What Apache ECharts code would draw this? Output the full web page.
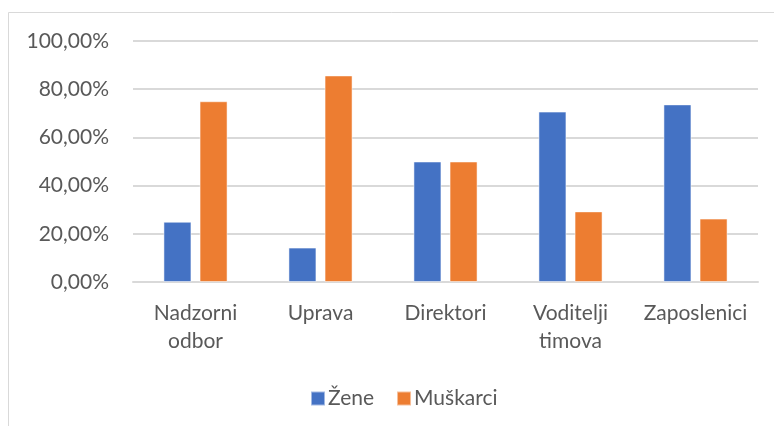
<!DOCTYPE html>
<html>
<head>
<meta charset="utf-8">
<script src="https://cdn.jsdelivr.net/npm/echarts@6/dist/echarts.min.js"></script>
<style>
html,body{margin:0;padding:0;background:#fff;}
#chart{width:774px;height:426px;}
</style>
</head>
<body>
<div id="chart"></div>
<script>
var categories = ["Nadzorni odbor", "Uprava", "Direktori", "Voditelji timova", "Zaposlenici"];
var seriesNames = ["Žene", "Muškarci"];
var zene = [0.25, 0.1429, 0.50, 0.707, 0.737];
var muskarci = [0.75, 0.8571, 0.50, 0.293, 0.263];
var yTicks = [0, 0.2, 0.4, 0.6, 0.8, 1.0];

var FONT = 'Lato';
var TXT = '#595959';
var chart = echarts.init(document.getElementById('chart'), null, {renderer: 'canvas'});
chart.setOption({
  animation: false,
  backgroundColor: '#ffffff',
  textStyle: {fontFamily: FONT},
  graphic: [{
    type: 'rect', z: -10,
    shape: {x: 8.5, y: 12.5, width: 900, height: 600},
    style: {fill: 'none', stroke: '#d9d9d9', lineWidth: 1}
  }],
  grid: {left: 133, right: 16, top: 41, bottom: 144, containLabel: false},
  legend: {
    data: seriesNames,
    left: 305, top: 383,
    itemWidth: 14, itemHeight: 14, itemGap: 22,
    icon: 'rect',
    textStyle: {fontFamily: FONT, fontSize: 21, color: TXT, padding: [0, 0, 0, -2]}
  },
  xAxis: {
    type: 'category',
    data: categories,
    axisLine: {show: true, lineStyle: {color: '#d9d9d9', width: 2}},
    axisTick: {show: false},
    axisLabel: {
      fontFamily: FONT, fontSize: 21, color: TXT, margin: 17, lineHeight: 28,
      interval: 0,
      formatter: function (v) { return v.replace(' ', '\n'); }
    }
  },
  yAxis: {
    type: 'value',
    min: yTicks[0], max: yTicks[yTicks.length - 1], interval: yTicks[1] - yTicks[0],
    axisLine: {show: false},
    axisTick: {show: false},
    splitLine: {lineStyle: {color: '#d9d9d9', width: 2}},
    axisLabel: {
      fontFamily: FONT, fontSize: 21, color: TXT, margin: 24,
      formatter: function (v) { return (v * 100).toFixed(2).replace('.', ',') + '%'; }
    }
  },
  series: [
    {
      name: seriesNames[0], type: 'bar', data: zene,
      barWidth: 28, barGap: '29%',
      itemStyle: {color: '#4472C4', borderColor: 'rgba(255,255,255,0.5)', borderWidth: 1}
    },
    {
      name: seriesNames[1], type: 'bar', data: muskarci,
      barWidth: 28, barGap: '29%',
      itemStyle: {color: '#ED7D31', borderColor: 'rgba(255,255,255,0.5)', borderWidth: 1}
    }
  ]
});
</script>
</body>
</html>
